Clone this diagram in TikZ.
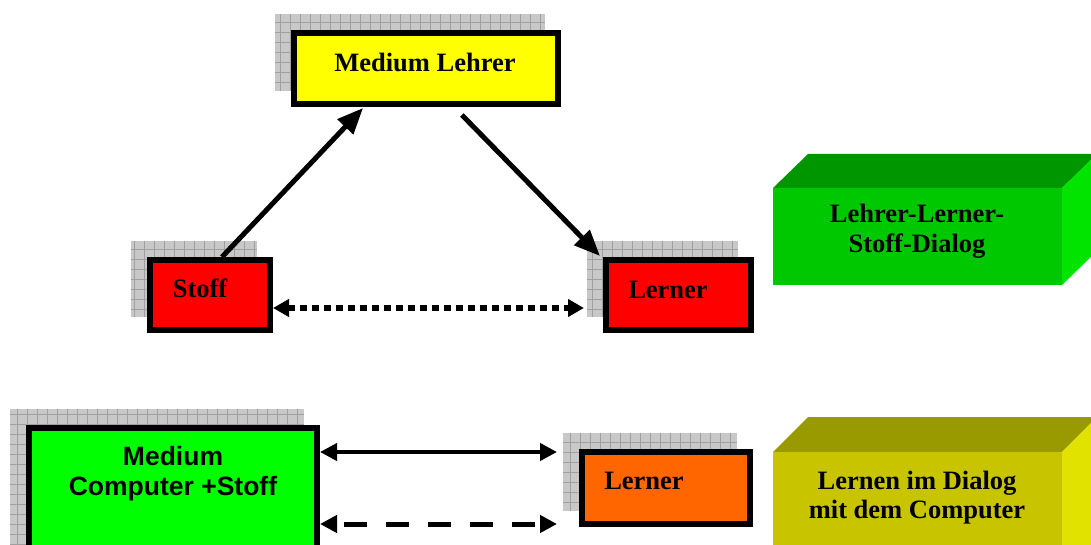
\documentclass[tikz,border=0pt]{standalone}
\usepackage{fontspec}
\setmainfont{Liberation Serif}
\setsansfont{Liberation Sans}
\usetikzlibrary{arrows.meta,calc}

\definecolor{shadefill}{RGB}{200,200,200}
\definecolor{shadegrid}{RGB}{160,160,160}
\definecolor{boxyellow}{RGB}{255,255,0}
\definecolor{boxred}{RGB}{255,0,0}
\definecolor{boxorange}{RGB}{255,102,0}
\definecolor{boxgreen}{RGB}{0,255,0}
\definecolor{gfront}{RGB}{0,200,0}
\definecolor{gtop}{RGB}{0,150,0}
\definecolor{gside}{RGB}{0,228,0}
\definecolor{yfront}{RGB}{200,196,0}
\definecolor{ytop}{RGB}{153,153,0}
\definecolor{yside}{RGB}{226,226,0}

\begin{document}
\begin{tikzpicture}[x=1pt,y=-1pt,
  framebox/.style={draw=black, line width=6pt, inner sep=0pt},
  gridshadow/.style={fill=shadefill, inner sep=0pt, outer sep=0pt,
    path picture={\draw[shadegrid, line width=0.8pt]
      (path picture bounding box.south west) grid[step=10pt]
      (path picture bounding box.north east);}},
  serifbig/.style={font=\fontsize{26.5}{29}\selectfont\bfseries, inner sep=0pt, anchor=base, align=center},
  sansbig/.style={font=\fontsize{26.5}{30}\selectfont\sffamily\bfseries, inner sep=0pt, anchor=base, align=center},
  heavyarrow/.style={line width=5pt, -{Triangle[length=26pt,width=21pt]}},
  dotarrow/.style={line width=6pt, dash pattern=on 7pt off 5pt,
    {Triangle[length=16pt,width=17pt]}-{Triangle[length=16pt,width=17pt]}},
  linkarrow/.style={line width=4pt,
    {Triangle[length=17pt,width=17pt]}-{Triangle[length=17pt,width=17pt]}},
  dasharrow/.style={line width=5pt, dash pattern=on 23pt off 19pt, dash phase=-8pt,
    {Triangle[length=17pt,width=17pt]}-{Triangle[length=17pt,width=17pt]}}
]
\useasboundingbox (0,0) rectangle (1091,545);

% shadows behind the boxes
\node[gridshadow, minimum width=270pt, minimum height=77pt] (sML) at (410,52.5) {};
\node[gridshadow, minimum width=126pt, minimum height=76pt] (sStoff) at (194,279) {};
\node[gridshadow, minimum width=151pt, minimum height=76pt] (sLernerA) at (662.5,279) {};
\node[gridshadow, minimum width=174pt, minimum height=78pt] (sLernerB) at (650,472) {};
\node[gridshadow, minimum width=294pt, minimum height=150pt] (sMC) at (157,484) {};

% framed boxes
\node[framebox, fill=boxyellow, minimum width=264pt, minimum height=71pt] (ML) at (426,68.5) {};
\node[framebox, fill=boxred, minimum width=120pt, minimum height=70pt] (Stoff) at (210,295) {};
\node[framebox, fill=boxred, minimum width=145pt, minimum height=70pt] (LernerA) at (678.5,295) {};
\node[framebox, fill=boxorange, minimum width=168pt, minimum height=72pt] (LernerB) at (666,488) {};
\node[framebox, fill=boxgreen, minimum width=288pt, minimum height=144pt] (MC) at (173,500) {};

% labels (a two-line label is anchored at the baseline of its last line)
\node[serifbig] (tML) at (425,72) {Medium Lehrer};
\node[serifbig] (tStoff) at (200,297) {Stoff};
\node[serifbig] (tLernerA) at (668,298) {Lerner};
\node[serifbig] (tLernerB) at (644,489) {Lerner};
\node[sansbig] (tMC) at (173,495) {Medium\\Computer +Stoff};

% triangle connectors
\coordinate (a1s) at ($(Stoff.north west)!0.595!(Stoff.north east)$);
\coordinate (a1e) at ($(ML.south west)!0.267!(ML.south east)$);
\draw[heavyarrow] (a1s) -- ([yshift=-1pt]a1e);
\coordinate (a2s) at ($(ML.south west)!0.633!(ML.south east)+(0,8)$);
\draw[heavyarrow] (a2s) -- ([xshift=-3pt,yshift=1pt]LernerA.north west);
\coordinate (dotL) at ($(Stoff.east)+(0,13)$);
\coordinate (dotR) at ($(LernerA.west)+(-19,13)$);
\draw[dotarrow] (dotL) -- (dotR);

% computer dialogue connectors
\coordinate (c1L) at ($(MC.east |- LernerB.north)+(0,3)$);
\coordinate (c1R) at ($(LernerB.west |- c1L)+(-22,0)$);
\draw[linkarrow] (c1L) -- (c1R);
\coordinate (c2L) at ($(MC.east |- LernerB.south)+(0,-3)$);
\coordinate (c2R) at ($(LernerB.west |- c2L)+(-22,0)$);
\draw[dasharrow] (c2L) -- (c2R);

% three-dimensional caption blocks
\fill[gtop] (773,188) -- (808,154) -- (1097,154) -- (1062,188) -- cycle;
\fill[gside] (1062,188) -- (1097,154) -- (1097,251) -- (1062,285) -- cycle;
\fill[gfront] (773,188) rectangle (1062,285);
\node[serifbig] (tGreen) at (917,252) {Lehrer-Lerner-\\Stoff-Dialog};

\fill[ytop] (773,452) -- (808,417) -- (1097,417) -- (1062,452) -- cycle;
\fill[yside] (1062,452) -- (1097,417) -- (1097,560) -- (1062,560) -- cycle;
\fill[yfront] (773,452) rectangle (1062,560);
\node[serifbig] (tYellow) at (917,518) {Lernen im Dialog\\mit dem Computer};
\end{tikzpicture}
\end{document}
